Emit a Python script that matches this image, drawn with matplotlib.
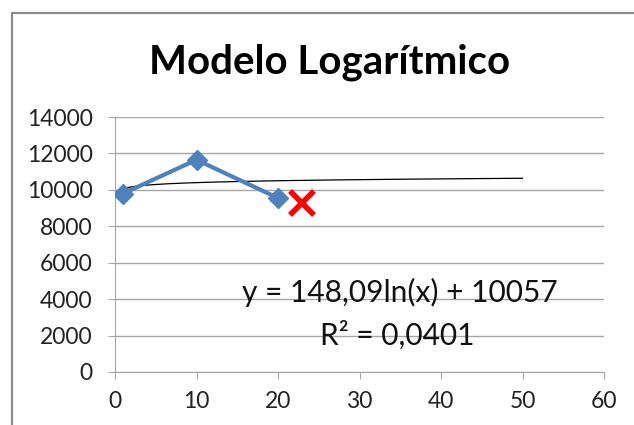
import matplotlib.pyplot as plt
import numpy as np
from matplotlib.patches import Rectangle

# data
x_obs = [1, 10, 20]
y_obs = [9800, 11650, 9550]
x_pred = [23]
y_pred = [9300]

# trendline coefficients as printed on the chart
TREND_A = 148.09
TREND_B = 10057
TREND_X = [1, 50]

plt.rcParams["font.family"] = ["Lato", "DejaVu Sans"]

fig = plt.figure(figsize=(6.34, 4.25), dpi=100)
ax = fig.add_axes([115 / 634, 1 - 372 / 425, 489 / 634, 255 / 425])

# chart border (Excel chart area frame, cropped at right/bottom)
fig.patches.append(Rectangle((12 / 634, -0.1), 1.2, 1 - 13 / 425 + 0.1,
                             transform=fig.transFigure, fill=False,
                             edgecolor="#8c8c8c", linewidth=1.6))

xt = np.linspace(TREND_X[0], TREND_X[1], 200)
ax.plot(xt, TREND_A * np.log(xt) + TREND_B, color="black", linewidth=0.9, zorder=3)

ax.plot(x_obs, y_obs, color="#4F81BD", linewidth=3.0, marker="D",
        markersize=10, zorder=4)
ax.plot(x_pred, y_pred, linestyle="none", marker="x", color="red",
        markersize=17, markeredgewidth=4, zorder=5)

ax.set_xlim(0, 60)
ax.set_ylim(0, 14000)
ax.set_xticks(range(0, 61, 10))
ax.set_yticks(range(0, 14001, 2000))
ax.grid(axis="y", color="#a6a6a6", linewidth=1.0)
ax.set_axisbelow(True)
for s in ("top", "right"):
    ax.spines[s].set_visible(False)
for s in ("left", "bottom"):
    ax.spines[s].set_color("#a6a6a6")
ax.tick_params(axis="both", colors="#a6a6a6", labelcolor="#222222",
               labelsize=16.5, length=5)
ax.tick_params(axis="y", pad=11)
ax.tick_params(axis="x", pad=9)

fig.text(330 / 634, 1 - 62 / 425, "Modelo Logarítmico", ha="center",
         va="center", fontsize=29, fontweight="bold")

ax.text(400 / 634, 1 - 292 / 425, "y = 148,09ln(x) + 10057", transform=fig.transFigure,
        ha="center", va="center", fontsize=21.5, color="#111111")
ax.text(397 / 634, 1 - 335 / 425, "R² = 0,0401", transform=fig.transFigure,
        ha="center", va="center", fontsize=21.5, color="#111111")

fig.savefig("out.png", dpi=100)
